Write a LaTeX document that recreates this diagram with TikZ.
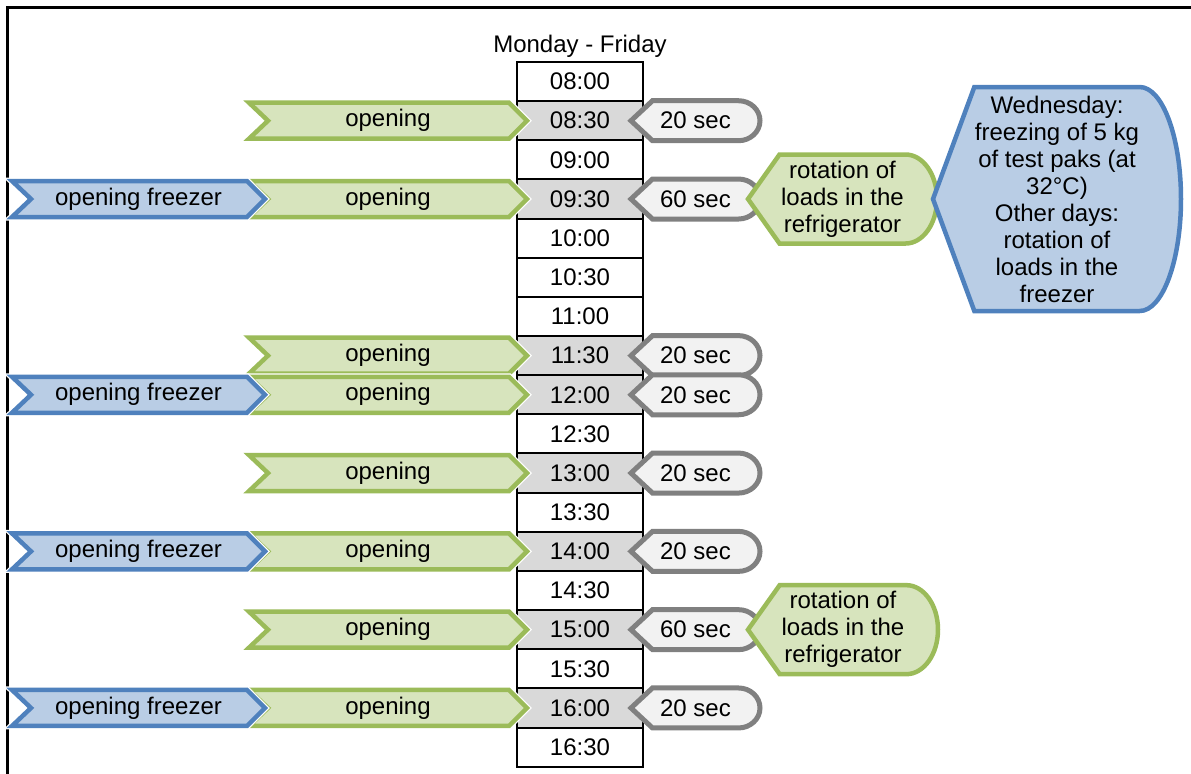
\documentclass[tikz,border=0pt]{standalone}
\usepackage{fontspec}
\setmainfont{Liberation Sans}

\definecolor{busygray}{HTML}{D9D9D9}
\definecolor{greenfill}{HTML}{D7E4BD}
\definecolor{greenline}{HTML}{9BBB59}
\definecolor{bluefill}{HTML}{B9CDE5}
\definecolor{blueline}{HTML}{4F81BD}
\definecolor{greyfill}{HTML}{F2F2F2}
\definecolor{greyline}{HTML}{808080}

\tikzset{
  frame/.style={color=black, line width=1.5pt},
  txt/.style={font=\fontsize{12}{13.5}\selectfont, align=center},
  slot/.style={txt, draw=black, line width=1pt, minimum width=63pt,
    minimum height=19.575pt, inner sep=0pt},
  halo/.style={preaction={draw=white, line width=3.5pt}},
  fridge/.style={draw=greenline, fill=greenfill, line width=2.25pt},
  freezer/.style={draw=blueline, fill=bluefill, line width=2.25pt},
  wait/.style={draw=greyline, fill=greyfill, line width=2.5pt},
}

% centre of time slot #1 (08:00 is row 0)
\newcommand{\rowy}[1]{\pgfmathsetmacro{\cy}{81.575+39.15*#1}}

% style, name, row, left x, right x, text
\newcommand{\chevronbox}[6]{%
  \rowy{#3}
  \draw[halo, #1] (#4,\cy-18) -- (#5,\cy-18) -- (#5+18,\cy) -- (#5,\cy+18)
    -- (#4,\cy+18) -- (#4+19,\cy) -- cycle;
  \node[txt] (#2) at ({(#4+#5)/2+9},\cy) {#6};
}

% style, name, row, tip x, width, height, text
\newcommand{\displaybox}[7]{%
  \rowy{#3}
  \pgfmathsetmacro{\dw}{#5/6}
  \pgfmathsetmacro{\dh}{#6/2}
  \draw[#1] (#4,\cy) -- (#4+\dw,\cy-\dh) -- (#4+5*\dw,\cy-\dh)
    arc[start angle=-90, end angle=90, x radius=\dw, y radius=\dh]
    -- (#4+\dw,\cy+\dh) -- cycle;
  \node[txt] (#2) at (#4+#5/2,\cy) {#7};
}

\begin{document}
\begin{tikzpicture}[x=0.5pt, y=-0.5pt]
\useasboundingbox (0,0) rectangle (1191,774);

% The frame
\draw[frame] (7,800) -- (7,8) -- (1220,8);

% The time slots
\node[txt] (days) at (580,46) {Monday - Friday};
\foreach \t/\c [count=\i from 0] in {08:00/white, 08:30/busygray,
    09:00/white, 09:30/busygray, 10:00/white, 10:30/white, 11:00/white,
    11:30/busygray, 12:00/busygray, 12:30/white, 13:00/busygray,
    13:30/white, 14:00/busygray, 14:30/white, 15:00/busygray,
    15:30/white, 16:00/busygray, 16:30/white}
  \node[slot, fill=\c] (s\i) at (580,{81.575+39.15*\i}) {\t};

% The openings
\chevronbox{fridge}{open1}{1}{249}{509}{opening}
\chevronbox{fridge}{open3}{3}{249}{509}{opening}
\chevronbox{fridge}{open7}{7}{249}{509}{opening}
\chevronbox{fridge}{open8}{8}{249}{509}{opening}
\chevronbox{fridge}{open10}{10}{249}{509}{opening}
\chevronbox{fridge}{open12}{12}{249}{509}{opening}
\chevronbox{fridge}{open14}{14}{249}{509}{opening}
\chevronbox{fridge}{open16}{16}{249}{509}{opening}

% The freezer openings
\chevronbox{freezer}{frz3}{3}{12}{247}{opening freezer}
\chevronbox{freezer}{frz8}{8}{12}{247}{opening freezer}
\chevronbox{freezer}{frz12}{12}{12}{247}{opening freezer}
\chevronbox{freezer}{frz16}{16}{12}{247}{opening freezer}

% The durations
\displaybox{wait}{wait1}{1}{631}{129}{40}{20 sec}
\displaybox{wait}{wait3}{3}{631}{129}{40}{60 sec}
\displaybox{wait}{wait7}{7}{631}{129}{40}{20 sec}
\displaybox{wait}{wait8}{8}{631}{129}{40}{20 sec}
\displaybox{wait}{wait10}{10}{631}{129}{40}{20 sec}
\displaybox{wait}{wait12}{12}{631}{129}{40}{20 sec}
\displaybox{wait}{wait14}{14}{631}{129}{40}{60 sec}
\displaybox{wait}{wait16}{16}{631}{129}{40}{20 sec}

% The load rotations
\displaybox{fridge}{rot3}{3}{748}{189}{89}{rotation of\\loads in the\\refrigerator}
\displaybox{fridge}{rot14}{14}{748}{190}{89}{rotation of\\loads in the\\refrigerator}
\displaybox{freezer}{wed}{3}{933}{248}{224}{Wednesday:\\freezing of 5 kg\\of test paks (at\\32°C)\\Other days:\\rotation of\\loads in the\\freezer}

\end{tikzpicture}
\end{document}
